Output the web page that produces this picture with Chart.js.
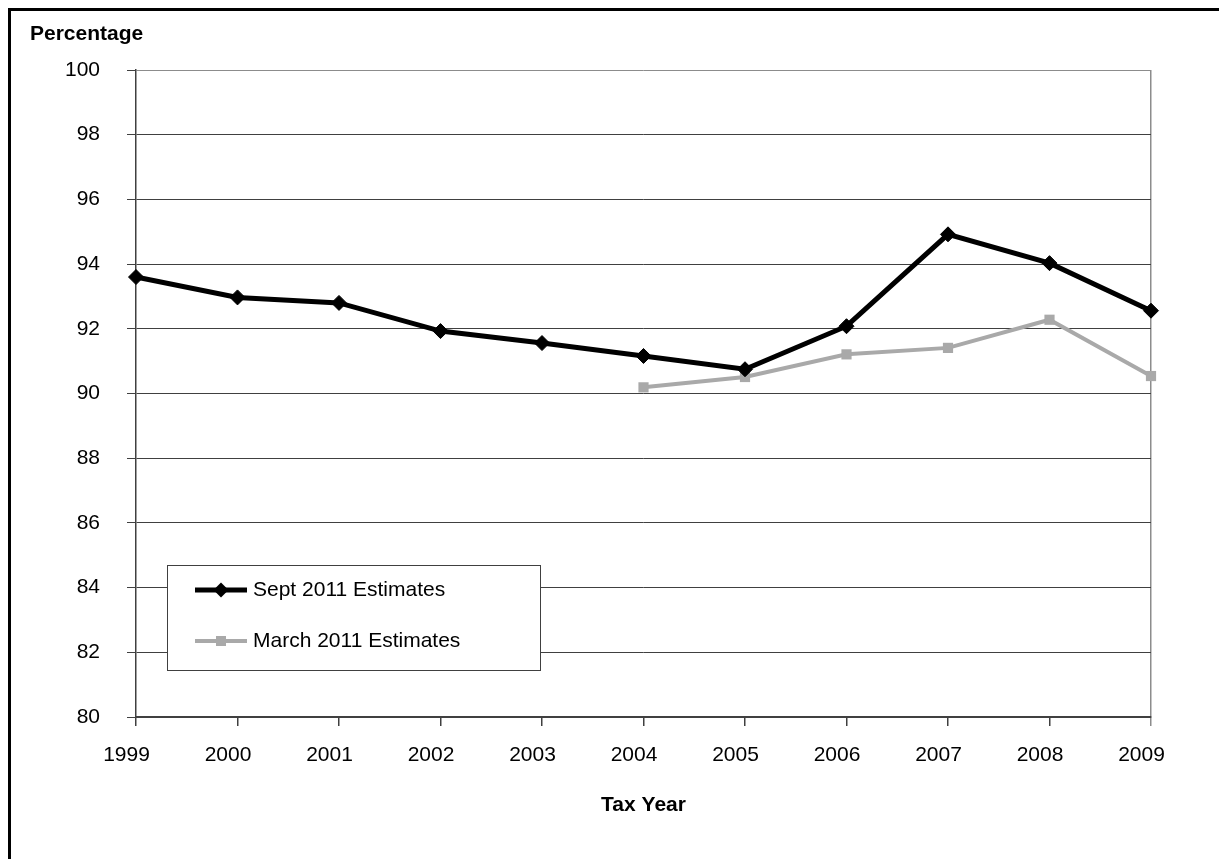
<!DOCTYPE html>
<html>
<head>
<meta charset="utf-8">
<script src="https://cdn.jsdelivr.net/npm/chart.js@4.4.1/dist/chart.umd.min.js"></script>
<style>
  html, body { margin: 0; padding: 0; background: #fff; overflow: hidden; }
  #wrap { position: relative; width: 1219px; height: 859px; }
  #frame { position: absolute; left: 8px; top: 8px; width: 1300px; height: 900px; border: 3px solid #000; pointer-events: none; }
  canvas { position: absolute; left: 0; top: 0; }
</style>
</head>
<body>
<div id="wrap">
  <canvas id="chart" width="1219" height="859"></canvas>
  <div id="frame"></div>
</div>
<script>
const years = ["1999", "2000", "2001", "2002", "2003", "2004", "2005", "2006", "2007", "2008", "2009"];
const sept2011 = [93.6, 92.97, 92.8, 91.93, 91.56, 91.16, 90.75, 92.08, 94.92, 94.03, 92.56];
const march2011 = [null, null, null, null, null, 90.19, 90.51, 91.21, 91.41, 92.28, 90.54];
const yMin = 80, yMax = 100, yStep = 2;

const FONT = "'Liberation Sans', Arial, sans-serif";
const FS = 21;
const GRID = "#404040";
const EDGE = "#8c8c8c";

// "Percentage" caption above the value axis
const cornerLabel = {
  id: "cornerLabel",
  afterDraw(chart) {
    const ctx = chart.ctx;
    ctx.save();
    ctx.font = "bold " + FS + "px " + FONT;
    ctx.fillStyle = "#000";
    ctx.textAlign = "left";
    ctx.textBaseline = "alphabetic";
    ctx.fillText("Percentage", 30, 40);
    ctx.restore();
  }
};

// boxed legend sitting inside the plot, lower left
const boxLegend = {
  id: "boxLegend",
  afterDatasetsDraw(chart) {
    const ctx = chart.ctx;
    const bx = 167.5, by = 565.5, bw = 373, bh = 105;
    ctx.save();
    ctx.fillStyle = "#fff";
    ctx.fillRect(bx, by, bw, bh);
    ctx.strokeStyle = GRID;
    ctx.lineWidth = 1;
    ctx.strokeRect(bx, by, bw, bh);

    chart.data.datasets.forEach((ds, i) => {
      const cy = 590 + i * 51;
      ctx.strokeStyle = ds.borderColor;
      ctx.lineWidth = ds.borderWidth;
      ctx.beginPath();
      ctx.moveTo(195, cy);
      ctx.lineTo(247, cy);
      ctx.stroke();

      ctx.fillStyle = ds.pointBackgroundColor;
      ctx.beginPath();
      if (ds.pointStyle === "rectRot") {
        const r = 7.5;
        ctx.moveTo(221 - r, cy);
        ctx.lineTo(221, cy - r);
        ctx.lineTo(221 + r, cy);
        ctx.lineTo(221, cy + r);
        ctx.closePath();
      } else {
        ctx.rect(216, cy - 5, 10, 10);
      }
      ctx.fill();

      ctx.fillStyle = "#000";
      ctx.font = FS + "px " + FONT;
      ctx.textAlign = "left";
      ctx.textBaseline = "middle";
      ctx.fillText(ds.label, 253, cy);
    });
    ctx.restore();
  }
};

new Chart(document.getElementById("chart"), {
  type: "line",
  data: {
    labels: years,
    datasets: [
      {
        label: "Sept 2011 Estimates",
        data: sept2011,
        borderColor: "#000",
        borderWidth: 5,
        pointStyle: "rectRot",
        pointRadius: 7.5,
        pointBackgroundColor: "#000",
        pointBorderColor: "#000",
        pointBorderWidth: 1,
        tension: 0,
        clip: false
      },
      {
        label: "March 2011 Estimates",
        data: march2011,
        borderColor: "#a9a9a9",
        borderWidth: 4,
        pointStyle: "rect",
        pointRadius: 7.2,
        pointBackgroundColor: "#a9a9a9",
        pointBorderColor: "#a9a9a9",
        pointBorderWidth: 0,
        tension: 0,
        clip: false
      }
    ]
  },
  options: {
    responsive: false,
    animation: false,
    devicePixelRatio: 1,
    layout: { padding: { top: 70, right: 68, bottom: 0, left: 0 } },
    plugins: {
      legend: { display: false },
      tooltip: { enabled: false }
    },
    scales: {
      x: {
        afterFit(scale) { scale.height = 142; },
        grid: {
          color: c => c.index === years.length - 1 ? EDGE : "rgba(0,0,0,0)",
          tickColor: c => c.index === years.length - 1 ? EDGE : GRID,
          tickLength: 9,
          lineWidth: 1.5
        },
        border: { color: GRID, width: 2 },
        ticks: {
          color: "#000",
          font: { family: FONT, size: FS },
          padding: 17,
          labelOffset: -9.5,
          maxRotation: 0,
          autoSkip: false
        },
        title: {
          display: true,
          text: "Tax Year",
          color: "#000",
          font: { family: FONT, size: FS, weight: "bold" },
          padding: { top: 0, bottom: 41 }
        }
      },
      y: {
        min: yMin,
        max: yMax,
        afterFit(scale) { scale.width = 136; },
        grid: {
          color: c => c.tick && c.tick.value === yMax ? EDGE : GRID,
          tickColor: GRID,
          tickLength: 9,
          lineWidth: 1
        },
        border: { color: GRID, width: 1.5 },
        ticks: {
          stepSize: yStep,
          color: "#000",
          font: { family: FONT, size: FS },
          padding: 27
        }
      }
    }
  },
  plugins: [boxLegend, cornerLabel]
});
</script>
</body>
</html>
